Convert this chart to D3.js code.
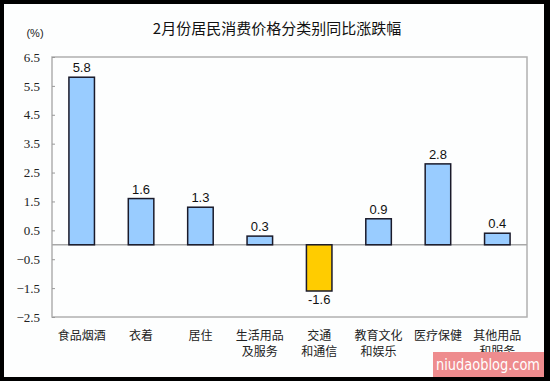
<!DOCTYPE html>
<html><head><meta charset="utf-8">
<script src="https://cdn.jsdelivr.net/npm/d3@7"></script>
<style>html,body{margin:0;padding:0;background:#000;}svg{display:block;}</style>
</head><body>
<svg id="c" width="550" height="381"></svg>
<script>
const title = "2月份居民消费价格分类别同比涨跌幅";
const unitLabel = "(%)";
const categories = [["食品烟酒"],["衣着"],["居住"],["生活用品","及服务"],["交通","和通信"],["教育文化","和娱乐"],["医疗保健"],["其他用品","和服务"]];
const values = [5.8, 1.6, 1.3, 0.3, -1.6, 0.9, 2.8, 0.4];
const yTicks = [6.5, 5.5, 4.5, 3.5, 2.5, 1.5, 0.5, -0.5, -1.5, -2.5];
const watermark = "niudaoblog.com";

const svg = d3.select("#c");
svg.append("rect").attr("x",4).attr("y",4).attr("width",540).attr("height",373).attr("fill","#fdfefe");

const L=52, R=527, T=57, B=317;
const x = d3.scaleBand().domain(d3.range(values.length)).range([L,R]).paddingInner(0.57).paddingOuter(0.285);
const y = d3.scaleLinear().domain([-2.5,6.5]).range([B,T]);

// frame
svg.append("rect").attr("x",L).attr("y",T).attr("width",R-L).attr("height",B-T)
  .attr("fill","none").attr("stroke","#b0b0b0").attr("stroke-width",1.5);

// y axis
const yAxis = d3.axisLeft(y).tickValues(yTicks).tickSize(-3).tickPadding(12).tickFormat(d3.format(".1f"));
const gy = svg.append("g").attr("transform",`translate(${L},0)`).call(yAxis);
gy.select(".domain").remove();
gy.selectAll(".tick line").attr("stroke","#999");
gy.selectAll(".tick text").attr("font-family","Liberation Serif, serif").attr("font-size",13).attr("fill","#222");

// zero line
svg.append("line").attr("x1",L).attr("x2",R).attr("y1",y(0)).attr("y2",y(0)).attr("stroke","#a8a8a8").attr("stroke-width",1.5);

// bars
svg.selectAll("rect.bar").data(values).join("rect").attr("class","bar")
  .attr("x",(d,i)=>x(i)).attr("width",x.bandwidth())
  .attr("y",d=>y(Math.max(0,d))).attr("height",d=>Math.abs(y(d)-y(0)))
  .attr("fill",d=>d<0?"#ffcc00":"#99ccff").attr("stroke","#1a1a2a").attr("stroke-width",1.5);

// value labels
svg.selectAll("text.val").data(values).join("text").attr("class","val")
  .attr("x",(d,i)=>x(i)+x.bandwidth()/2)
  .attr("y",d=>d<0? y(d)+13 : y(d)-5)
  .attr("text-anchor","middle").attr("font-family","Liberation Sans, Arial, sans-serif").attr("font-size",13).attr("fill","#111")
  .text(d=>d.toFixed(1));

// category labels
const cat = svg.selectAll("g.cat").data(categories).join("g").attr("class","cat")
  .attr("transform",(d,i)=>`translate(${x(i)+x.bandwidth()/2},0)`);
cat.selectAll("text").data(d=>d).join("text")
  .attr("x",0).attr("y",(d,j)=>340+j*16).attr("text-anchor","middle")
  .attr("font-family","Noto Sans CJK SC, sans-serif").attr("font-size",12).attr("fill","#222")
  .text(d=>d);

// title and unit
svg.append("text").attr("x",277).attr("y",34).attr("text-anchor","middle")
  .attr("font-family","Noto Sans CJK SC, sans-serif").attr("font-size",15).attr("fill","#111").text(title);
svg.append("text").attr("x",35).attr("y",37).attr("text-anchor","middle")
  .attr("font-family","Liberation Sans, Arial, sans-serif").attr("font-size",11).attr("fill","#222").text(unitLabel);

// watermark
svg.append("rect").attr("x",433).attr("y",352).attr("width",111).attr("height",25).attr("fill","#ee8c8e");
svg.append("text").attr("x",436).attr("y",370)
  .attr("font-family","DejaVu Sans, sans-serif").attr("font-size",16).attr("textLength",104).attr("lengthAdjust","spacingAndGlyphs")
  .attr("fill","#fff").text(watermark);
</script>
</body></html>
